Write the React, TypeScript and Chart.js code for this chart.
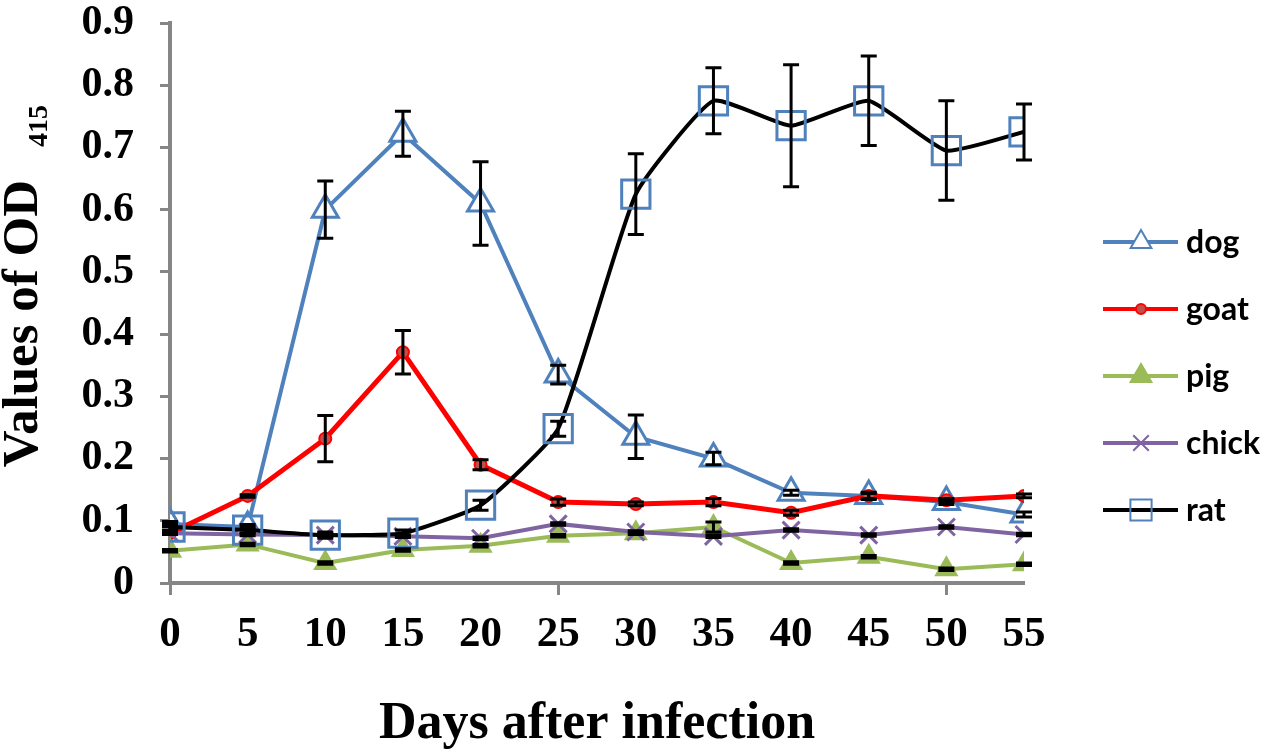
import React, { useEffect, useRef } from "react";
import { Chart, registerables } from "chart.js";
import { drawPoint } from "chart.js/helpers";

Chart.register(...registerables);

// days after infection
const days = [0, 5, 10, 15, 20, 25, 30, 35, 40, 45, 50, 55];

// OD415 means
const dogValues = [0.095, 0.09, 0.6, 0.722, 0.61, 0.335, 0.235, 0.2, 0.145, 0.14, 0.13, 0.11];
const goatValues = [0.08, 0.14, 0.232, 0.371, 0.19, 0.13, 0.127, 0.13, 0.113, 0.14, 0.133, 0.14];
const pigValues = [0.052, 0.062, 0.032, 0.053, 0.06, 0.076, 0.08, 0.09, 0.032, 0.042, 0.022, 0.03];
const chickValues = [0.08, 0.078, 0.077, 0.075, 0.072, 0.095, 0.082, 0.075, 0.085, 0.077, 0.09, 0.078];
const ratValues = [0.09, 0.085, 0.077, 0.08, 0.125, 0.248, 0.625, 0.775, 0.735, 0.775, 0.695, 0.725];

// error bars (+/-)
const dogErr = [0.004, 0.004, 0.046, 0.036, 0.067, 0.015, 0.035, 0.01, 0.004, 0.004, 0.004, 0.004];
const goatErr = [0.002, 0.002, 0.037, 0.035, 0.008, 0.005, 0.003, 0.006, 0.004, 0.006, 0.003, 0.003];
const pigErr = [0.002, 0.002, 0.002, 0.002, 0.002, 0.002, 0.002, 0.008, 0.002, 0.002, 0.002, 0.002];
const chickErr = [0.002, 0.002, 0.002, 0.002, 0.002, 0.002, 0.002, 0.002, 0.002, 0.002, 0.002, 0.002];
const ratErr = [0.005, 0.005, 0.005, 0.005, 0.008, 0.012, 0.065, 0.053, 0.098, 0.072, 0.08, 0.045];

const yTicks = [0, 0.1, 0.2, 0.3, 0.4, 0.5, 0.6, 0.7, 0.8, 0.9];

const AXIS_GRAY = "#868686";
const SERIF = "'Liberation Serif', 'Times New Roman', serif";

const series = [
  { label: "dog", values: dogValues, err: dogErr, line: "#4F81BD", style: "triangle", r: 15, fill: "#ffffff", stroke: "#4F81BD", legendR: 12 },
  { label: "goat", values: goatValues, err: goatErr, line: "#FF0000", style: "circle", r: 6, fill: "#C0504D", stroke: "#FF0000", legendR: 5 },
  { label: "pig", values: pigValues, err: pigErr, line: "#9BBB59", style: "triangle", r: 11, fill: "#9BBB59", stroke: "#9BBB59", legendR: 12 },
  { label: "chick", values: chickValues, err: chickErr, line: "#8064A2", style: "crossRot", r: 12, fill: "#8064A2", stroke: "#8064A2", legendR: 11 },
  { label: "rat", values: ratValues, err: ratErr, line: "#000000", style: "rect", r: 20, fill: "rgba(0,0,0,0)", stroke: "#4F81BD", legendR: 15 },
];

const errorBars = {
  id: "errorBars",
  afterDatasetsDraw(chart: any) {
    const ctx = chart.ctx;
    const y = chart.scales.y;
    ctx.save();
    ctx.strokeStyle = "#000";
    ctx.lineWidth = 3;
    series.forEach((s, di) => {
      const meta = chart.getDatasetMeta(di);
      meta.data.forEach((pt: any, i: number) => {
        const top = y.getPixelForValue(s.values[i] + s.err[i]);
        const bot = y.getPixelForValue(s.values[i] - s.err[i]);
        ctx.beginPath();
        ctx.moveTo(pt.x, top);
        ctx.lineTo(pt.x, bot);
        ctx.moveTo(pt.x - 8, top);
        ctx.lineTo(pt.x + 8, top);
        ctx.moveTo(pt.x - 8, bot);
        ctx.lineTo(pt.x + 8, bot);
        ctx.stroke();
      });
    });
    ctx.restore();
  },
};

const decorations = {
  id: "decorations",
  afterDraw(chart: any) {
    const ctx = chart.ctx;
    ctx.save();
    // legend
    const rows = [242, 309, 376, 443, 510];
    series.forEach((s, i) => {
      const ly = rows[i];
      ctx.strokeStyle = s.line;
      ctx.lineWidth = 4;
      ctx.beginPath();
      ctx.moveTo(1103, ly);
      ctx.lineTo(1178, ly);
      ctx.stroke();
      ctx.fillStyle = s.fill;
      ctx.strokeStyle = s.stroke;
      ctx.lineWidth = 2;
      drawPoint(ctx, { pointStyle: s.style, radius: s.legendR, rotation: 0, borderWidth: 2 }, 1141, ly);
      ctx.fillStyle = "#000";
      ctx.font = "bold 32px Lato, 'Open Sans', sans-serif";
      ctx.textAlign = "left";
      ctx.textBaseline = "middle";
      ctx.fillText(s.label, 1186, ly + 1);
    });
    // x title
    ctx.fillStyle = "#000";
    ctx.font = `bold 52px ${SERIF}`;
    ctx.textAlign = "center";
    ctx.textBaseline = "alphabetic";
    ctx.fillText("Days after infection", (chart.chartArea.left + chart.chartArea.right) / 2, 738);
    // y title with subscript
    ctx.translate(37, 0);
    ctx.rotate(-Math.PI / 2);
    ctx.font = `bold 51px ${SERIF}`;
    ctx.textAlign = "right";
    ctx.fillText("Values of OD", -180, 0);
    ctx.font = `bold 28px ${SERIF}`;
    ctx.textAlign = "left";
    ctx.fillText("415", -147, 10);
    ctx.restore();
  },
};

const App: React.FC = () => {
  const canvasRef = useRef<HTMLCanvasElement>(null);

  useEffect(() => {
    if (!canvasRef.current) return;

    const datasets = series.map((s, i) => ({
      label: s.label,
      data: days.map((d, k) => ({ x: d, y: s.values[k] })),
      borderColor: s.line,
      borderWidth: s.label === "goat" ? 5 : 4,
      tension: s.label === "rat" ? 0.15 : 0,
      pointStyle: s.style,
      pointRadius: s.r,
      pointBorderWidth: s.label === "goat" ? 2 : 3,
      pointBackgroundColor: s.fill,
      pointBorderColor: s.stroke,
      order: series.length - i,
    }));

    const chart = new Chart(canvasRef.current, {
      type: "line",
      data: { datasets },
      options: {
        animation: false,
        responsive: false,
        layout: { padding: { top: 17, right: 243, left: 0, bottom: 0 } },
        plugins: { legend: { display: false }, tooltip: { enabled: false } },
        scales: {
          x: {
            type: "linear",
            min: days[0],
            max: days[days.length - 1],
            afterFit: (scale: any) => {
              scale.height = 172;
            },
            afterBuildTicks: (scale: any) => {
              scale.ticks = days.map((d) => ({ value: d }));
            },
            border: { display: true, color: AXIS_GRAY, width: 4 },
            grid: {
              drawOnChartArea: false,
              drawTicks: true,
              tickLength: 12,
              tickWidth: 3,
              tickColor: (c: any) => (c.index % 5 === 0 ? AXIS_GRAY : "rgba(0,0,0,0)"),
            },
            ticks: {
              color: "#000",
              padding: 18,
              maxRotation: 0,
              font: { family: SERIF, size: 43, weight: "bold", lineHeight: 1 },
              callback: (v: any) => String(v),
            },
          },
          y: {
            min: yTicks[0],
            max: yTicks[yTicks.length - 1],
            afterFit: (scale: any) => {
              scale.width = 170;
              scale.paddingTop = 0;
              scale.paddingBottom = 0;
            },
            afterBuildTicks: (scale: any) => {
              scale.ticks = yTicks.map((v) => ({ value: v }));
            },
            border: { display: true, color: AXIS_GRAY, width: 4 },
            grid: {
              drawOnChartArea: false,
              drawTicks: true,
              tickLength: 10,
              tickWidth: 3,
              tickColor: AXIS_GRAY,
            },
            ticks: {
              color: "#000",
              padding: 26,
              font: { family: SERIF, size: 42, weight: "bold", lineHeight: 0.9 },
              callback: (v: any) => (v === 0 ? "0" : Number(v).toFixed(1)),
            },
          },
        },
      },
      plugins: [errorBars, decorations],
    } as any);

    return () => {
      chart.destroy();
    };
  }, []);

  return (
    <div style={{ position: "fixed", left: 0, top: 0, width: 1267, height: 755, background: "#fff" }}>
      <canvas ref={canvasRef} width={1267} height={755} style={{ width: 1267, height: 755 }} />
    </div>
  );
};

export default App;
